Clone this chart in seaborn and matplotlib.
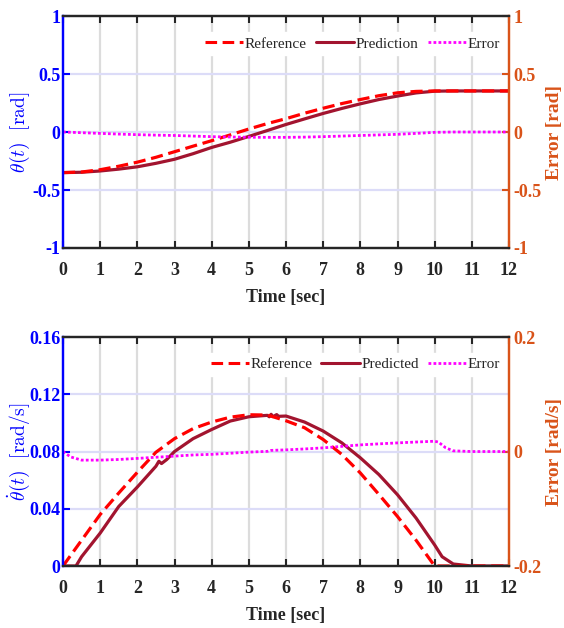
import matplotlib
matplotlib.use('Agg')
import matplotlib.pyplot as plt
import seaborn as sns
import pandas as pd
from matplotlib.lines import Line2D

# ---------------- data ----------------
t_top = [0, 0.5, 1, 1.5, 2, 2.5, 3, 3.5, 4, 4.5, 5, 5.5, 6, 6.5, 7, 7.5,
         8, 8.5, 9, 9.5, 10, 10.5, 11, 11.5, 12]
theta_ref = [-0.35, -0.345, -0.325, -0.295, -0.26, -0.218, -0.17, -0.122, -0.075,
             -0.025, 0.026, 0.073, 0.115, 0.162, 0.205, 0.245, 0.28, 0.313, 0.338,
             0.35, 0.354, 0.354, 0.354, 0.354, 0.354]
theta_pred = [-0.35, -0.347, -0.336, -0.32, -0.30, -0.27, -0.235, -0.187, -0.133,
              -0.088, -0.038, 0.013, 0.065, 0.113, 0.16, 0.203, 0.243, 0.28, 0.31,
              0.337, 0.352, 0.354, 0.354, 0.354, 0.354]
theta_err = [0, -0.006, -0.012, -0.018, -0.023, -0.027, -0.03, -0.035, -0.04, -0.043,
             -0.045, -0.046, -0.046, -0.044, -0.04, -0.035, -0.03, -0.025, -0.02,
             -0.012, -0.003, 0, 0, 0, 0]

t_wref = [0, 0.5, 1, 1.5, 2, 2.5, 3, 3.5, 4, 4.5, 5, 5.5, 6, 6.5, 7, 7.5, 8, 8.5,
          9, 9.5, 10, 10.5, 11, 11.5, 12]
omega_ref = [0, 0.018, 0.036, 0.051, 0.0655, 0.0795, 0.089, 0.096, 0.1006, 0.104,
             0.1057, 0.1055, 0.1015, 0.0966, 0.0884, 0.078, 0.065, 0.05, 0.0346,
             0.018, 0, 0, 0, 0, 0]

t_wpred = [0, 0.35, 0.5, 1, 1.5, 2, 2.5, 2.58, 2.65, 2.79, 3, 3.5, 4, 4.5, 5, 5.5,
           5.55, 5.6, 5.65, 5.75, 5.8, 6, 6.5, 7, 7.5, 8, 8.5, 9, 9.5, 10, 10.2,
           10.5, 11, 12]
omega_pred = [0, 0, 0.0065, 0.023, 0.0416, 0.0552, 0.0697, 0.0732, 0.0716, 0.0744,
              0.080, 0.089, 0.0954, 0.1013, 0.1043, 0.1053, 0.1043, 0.106, 0.1044,
              0.1058, 0.1046, 0.1048, 0.1006, 0.0943, 0.0861, 0.0756, 0.0639, 0.0498,
              0.0335, 0.0147, 0.0065, 0.0014, 0, 0]

t_werr = [0, 0.2, 0.5, 1, 1.5, 2, 2.5, 3, 3.5, 4, 4.5, 5, 5.5, 5.6, 6, 6.5, 7, 7.5,
          8, 8.5, 9, 9.5, 10, 10.1, 10.3, 10.5, 11, 12]
omega_err = [0, -0.0093, -0.015, -0.015, -0.0139, -0.012, -0.010, -0.008, -0.006,
             -0.0049, -0.003, -0.001, 0.0003, 0.002, 0.0029, 0.0045, 0.0064, 0.009,
             0.0116, 0.0134, 0.0151, 0.0166, 0.018, 0.0165, 0.0064, 0.0012, 0, 0]

# ---------------- style ----------------
sns.set_style('white')
plt.rcParams['font.family'] = ['Liberation Serif', 'DejaVu Serif']
plt.rcParams['mathtext.fontset'] = 'cm'

BLUE = '#0000FF'
ORANGE = '#D95319'
C_REF = '#FF0000'
C_PRED = '#A2142F'
C_ERR = '#FF00FF'
TICK_FS = 13
DASH = (0, (3.8, 1.8))
DOT = (0, (1, 0.8))


def style_axes(ax, ax2, ylim, yticks, ylim2, yticks2, ylabel, ylabel2):
    ax.set_xlim(0, 12)
    ax.set_xticks(range(0, 13))
    ax.set_ylim(*ylim)
    ax.set_yticks(yticks)
    ax2.set_ylim(*ylim2)
    ax2.set_yticks(yticks2)

    ax.grid(False)
    for x in range(1, 12):
        ax.axvline(x, color='#DCDCDC', lw=1.6, zorder=0)
    for y in yticks[1:-1]:
        ax.axhline(y, color='#DCDCF8', lw=1.6, zorder=0)

    ax.tick_params(axis='x', direction='in', top=True, bottom=True, length=5,
                   width=1.5, colors='#262626', labelsize=TICK_FS, pad=10)
    ax.tick_params(axis='y', direction='in', left=True, length=5, width=1.5,
                   colors=BLUE, labelsize=TICK_FS, pad=2)
    ax2.tick_params(axis='y', direction='in', right=True, length=5, width=1.5,
                    colors=ORANGE, labelsize=TICK_FS, pad=3)
    for lab in ax.get_xticklabels():
        lab.set_fontweight('bold')

    for a in (ax, ax2):
        a.spines['top'].set_color('#262626')
        a.spines['bottom'].set_color('#262626')
        a.spines['left'].set_color(BLUE)
        a.spines['right'].set_color(ORANGE)
        for s in a.spines.values():
            s.set_linewidth(1.6)
            s.set_visible(True)

    ax.set_xlabel('Time [sec]', fontsize=13, fontweight='bold', labelpad=7)
    ax.set_ylabel(ylabel, fontsize=14, color=BLUE)
    ax.yaxis.set_label_coords(-0.07, 0.5)
    ax2.set_ylabel(ylabel2, fontsize=14, fontweight='bold', color=ORANGE)
    ax2.yaxis.set_label_coords(1.084, 0.5)


def add_legend(ax, ax2, pred_label):
    for a in (ax, ax2):
        if a.get_legend() is not None:
            a.get_legend().remove()
    handles = [
        Line2D([], [], color=C_REF, lw=2.2, linestyle=DASH),
        Line2D([], [], color=C_PRED, lw=2.2),
        Line2D([], [], color=C_ERR, lw=2.0, linestyle=DOT),
    ]
    leg = ax2.legend(handles, ['Reference', pred_label, 'Error'], ncol=3,
                     loc='upper right', bbox_to_anchor=(0.99, 0.93),
                     frameon=True, fancybox=False, framealpha=1, edgecolor='white',
                     fontsize=11, handlelength=2.5, handletextpad=0.1,
                     columnspacing=0.6, borderpad=0.3, borderaxespad=0)
    leg.set_zorder(10)


fig = plt.figure(figsize=(5.64, 6.28), dpi=100)

# ---------------- top panel: theta ----------------
ax1 = fig.add_axes([0.1117, 0.6051, 0.7908, 0.3694])
ax1b = ax1.twinx()
df_top = pd.DataFrame({'t': t_top, 'ref': theta_ref, 'pred': theta_pred, 'err': theta_err})
sns.lineplot(data=df_top, x='t', y='pred', ax=ax1, color=C_PRED, lw=2.3, label='Prediction')
sns.lineplot(data=df_top, x='t', y='ref', ax=ax1, color=C_REF, lw=2.3,
             linestyle=DASH, label='Reference')
sns.lineplot(data=df_top, x='t', y='err', ax=ax1b, color=C_ERR, lw=2.0,
             linestyle=DOT, label='Error')
style_axes(ax1, ax1b, (-1, 1), [-1, -0.5, 0, 0.5, 1], (-1, 1), [-1, -0.5, 0, 0.5, 1],
           r'$\theta(t)\ \ [\mathrm{rad}]$', 'Error [rad]')
ax1.set_yticklabels(['-1', '-0.5', '0', '0.5', '1'], fontweight='bold')
ax1b.set_yticklabels(['-1', '-0.5', '0', '0.5', '1'], fontweight='bold')
add_legend(ax1, ax1b, 'Prediction')

# ---------------- bottom panel: theta dot ----------------
ax2 = fig.add_axes([0.1117, 0.0987, 0.7908, 0.3646])
ax2b = ax2.twinx()
df_ref = pd.DataFrame({'t': t_wref, 'v': omega_ref})
df_pred = pd.DataFrame({'t': t_wpred, 'v': omega_pred})
df_err = pd.DataFrame({'t': t_werr, 'v': omega_err})
sns.lineplot(data=df_pred, x='t', y='v', ax=ax2, color=C_PRED, lw=2.3, label='Predicted')
sns.lineplot(data=df_ref, x='t', y='v', ax=ax2, color=C_REF, lw=2.3,
             linestyle=DASH, label='Reference')
sns.lineplot(data=df_err, x='t', y='v', ax=ax2b, color=C_ERR, lw=2.0,
             linestyle=DOT, label='Error')
style_axes(ax2, ax2b, (0, 0.16), [0, 0.04, 0.08, 0.12, 0.16], (-0.2, 0.2), [-0.2, 0, 0.2],
           r'$\dot{\theta}(t)\ \ [\mathrm{rad/s}]$', 'Error [rad/s]')
ax2.set_yticklabels(['0', '0.04', '0.08', '0.12', '0.16'], fontweight='bold')
ax2b.set_yticklabels(['-0.2', '0', '0.2'], fontweight='bold')
add_legend(ax2, ax2b, 'Predicted')

fig.savefig('out.png', dpi=100)
